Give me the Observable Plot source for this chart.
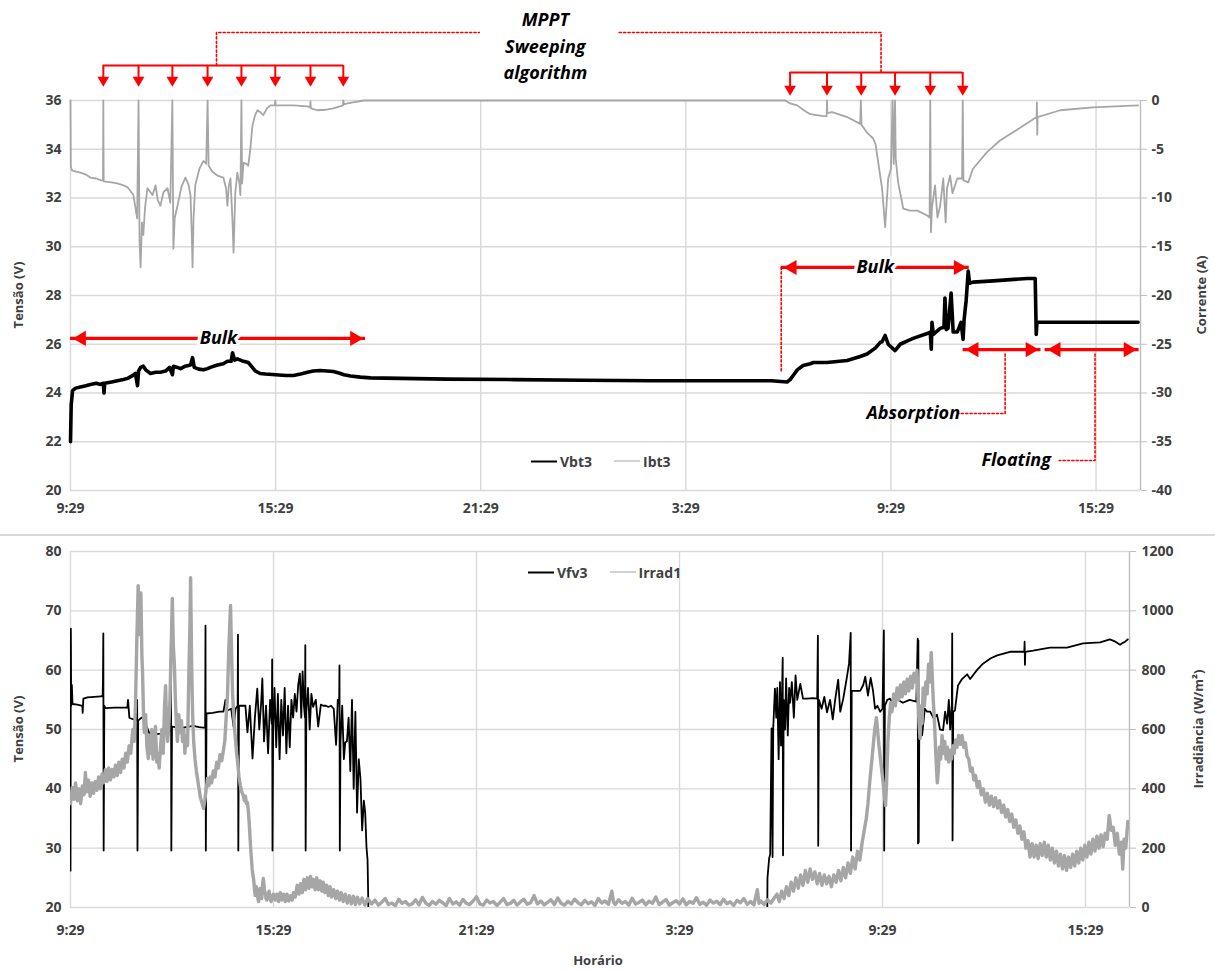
<!DOCTYPE html>
<html>
<head>
<meta charset="utf-8">
<script src="https://cdn.jsdelivr.net/npm/d3@7"></script>
<script src="https://cdn.jsdelivr.net/npm/@observablehq/plot@0.6"></script>
<style>
  body { margin: 0; background: #fff; }
  #wrap { position: relative; width: 1215px; height: 971px; overflow: hidden; font-family: "Open Sans", "Liberation Sans", sans-serif; background: #fff; }
  #top, #bot { position: absolute; left: 0; }
  #top { top: 0; }
  #bot { top: 530px; }
  .sep { position: absolute; left: 0; top: 534px; width: 1215px; border-top: 2px solid #d9d9d9; }
  .lab { position: absolute; font-weight: 700; font-size: 14px; color: #404040; white-space: nowrap; }
  .rot { transform: translate(-50%, -50%) rotate(-90deg); }
  .ctr { transform: translate(-50%, -50%); }
  .leg { position: absolute; display: flex; align-items: center; font-weight: 700; font-size: 14px; color: #404040; transform: translateY(-50%); white-space: nowrap; }
  .leg span.sw { display: inline-block; width: 26px; margin-right: 3px; }
  .leg span.gap { display: inline-block; width: 22px; }
</style>
</head>
<body>
<div id="wrap">
  <div id="top"></div>
  <div class="sep"></div>
  <div id="bot"></div>
  <div class="lab rot" style="left:18px;top:295px;font-size:13px;">Tensão (V)</div>
  <div class="lab rot" style="left:1201px;top:295px;font-size:13px;">Corrente (A)</div>
  <div class="lab rot" style="left:18px;top:729px;font-size:13px;">Tensão (V)</div>
  <div class="lab rot" style="left:1198px;top:729px;font-size:13px;">Irradiância (W/m²)</div>
  <div class="lab ctr" style="left:598px;top:960px;font-size:13px;">Horário</div>
  <div class="leg" style="left:531px;top:461px;">
    <span class="sw" style="border-top:2px solid #000;"></span>Vbt3<span class="gap"></span>
    <span class="sw" style="border-top:1px solid #a6a6a6;"></span>Ibt3
  </div>
  <div class="leg" style="left:528px;top:572px;">
    <span class="sw" style="border-top:2px solid #000;"></span>Vfv3<span class="gap"></span>
    <span class="sw" style="border-top:1px solid #a6a6a6;"></span>Irrad1
  </div>
</div>
<script>
// ---------------- DATA (hours after 9:29, value) ----------------
const timeTicks = [0, 6, 12, 18, 24, 30];
const timeTickLabels = ["9:29", "15:29", "21:29", "3:29", "9:29", "15:29"];
const timeEnd = 31.3;

const voltTicksTop = [20, 22, 24, 26, 28, 30, 32, 34, 36];
const currentTicks = [0, -5, -10, -15, -20, -25, -30, -35, -40];
const voltTicksBottom = [20, 30, 40, 50, 60, 70, 80];
const irradTicks = [0, 200, 400, 600, 800, 1000, 1200];

// Battery voltage Vbt3 (V)
const vbt3 = [
  [0.00,22.0],[0.02,23.5],[0.06,24.1],[0.15,24.2],[0.29,24.25],[0.45,24.3],[0.58,24.35],[0.75,24.4],
  [0.88,24.35],[0.96,24.4],[0.98,24.0],[1.00,24.4],[1.20,24.45],[1.37,24.5],[1.55,24.55],[1.67,24.6],
  [1.80,24.7],[1.90,24.8],[1.96,24.3],[1.99,24.9],[2.05,25.05],[2.13,25.1],[2.20,24.95],[2.34,24.8],
  [2.49,24.85],[2.63,24.85],[2.78,24.9],[2.90,25.05],[2.98,24.75],[3.01,25.1],[3.13,25.05],[3.22,25.0],
  [3.36,25.1],[3.51,25.15],[3.57,25.45],[3.62,25.05],[3.75,24.98],[3.89,24.95],[4.01,25.0],[4.09,25.05],
  [4.30,25.15],[4.47,25.2],[4.59,25.3],[4.70,25.3],[4.74,25.65],[4.80,25.35],[4.88,25.4],[4.97,25.35],
  [5.06,25.3],[5.20,25.25],[5.32,25.05],[5.41,24.9],[5.55,24.8],[5.70,24.78],[6.00,24.75],[6.30,24.72],
  [6.52,24.72],[6.73,24.78],[6.93,24.85],[7.10,24.9],[7.31,24.92],[7.50,24.9],[7.69,24.88],[7.85,24.82],
  [8.00,24.75],[8.19,24.7],[8.48,24.65],[8.77,24.62],[9.65,24.6],[11.0,24.57],[13.0,24.55],[15.0,24.52],
  [17.0,24.5],[19.0,24.5],[20.5,24.5],[20.96,24.45],[21.05,24.55],[21.14,24.72],[21.26,24.95],[21.43,25.13],
  [21.64,25.2],[21.73,25.25],[22.13,25.25],[22.72,25.33],[23.10,25.5],[23.30,25.6],[23.55,25.85],[23.68,26.07],
  [23.74,26.1],[23.83,26.36],[23.92,26.0],[24.12,25.74],[24.27,26.0],[24.50,26.15],[24.65,26.24],[25.06,26.44],
  [25.15,26.5],[25.18,25.8],[25.20,26.9],[25.24,26.4],[25.44,26.65],[25.55,26.7],[25.58,27.9],[25.62,26.6],
  [25.67,26.65],[25.76,28.1],[25.82,26.5],[25.94,26.5],[26.05,26.9],[26.11,26.2],[26.14,27.0],[26.20,27.8],
  [26.26,29.0],[26.30,28.5],[26.40,28.55],[26.99,28.6],[27.50,28.65],[27.98,28.7],[28.22,28.7],[28.25,26.4],
  [28.27,26.9],[28.40,26.9],[29.0,26.9],[30.0,26.9],[31.23,26.9]
];

// Battery current Ibt3 (A)
const ibt3 = [
  [0.00,0],[0.01,-6.8],[0.05,-7.2],[0.29,-7.4],[0.45,-7.6],[0.58,-7.9],[0.75,-8.0],[0.90,-8.2],[0.95,-8.2],
  [0.96,0],[0.97,-8.3],[1.20,-8.4],[1.37,-8.5],[1.55,-8.7],[1.67,-8.9],[1.84,-9.7],[1.95,-12.1],[1.99,0],
  [2.02,-14.5],[2.05,-17.1],[2.09,-12.5],[2.13,-13.8],[2.18,-11.0],[2.25,-9.0],[2.40,-9.7],[2.49,-8.7],
  [2.55,-10.2],[2.63,-10.8],[2.72,-9.4],[2.84,-9.0],[2.92,-10.5],[2.98,0],[3.01,-15.2],[3.05,-12.0],
  [3.13,-10.8],[3.25,-8.8],[3.36,-7.9],[3.45,-8.6],[3.51,-9.7],[3.55,-14],[3.57,-17.1],[3.60,-12],
  [3.65,-8.7],[3.77,-7.0],[3.89,-6.2],[3.97,-6.5],[4.01,0],[4.04,-6.7],[4.15,-7.3],[4.30,-7.7],[4.47,-7.9],
  [4.55,-9.0],[4.59,-10.8],[4.63,-8.8],[4.68,-8.0],[4.74,-12.5],[4.77,-15.6],[4.82,-9.5],[4.88,-7.4],
  [4.94,-8.5],[4.97,-9.7],[5.00,0],[5.02,-8.5],[5.06,-6.4],[5.15,-6.5],[5.20,-6.7],[5.26,-5.0],[5.32,-2.6],
  [5.40,-1.5],[5.47,-1.0],[5.55,-1.2],[5.64,-1.5],[5.75,-0.8],[5.85,-0.5],[5.98,-0.5],[5.99,0],[6.00,-0.5],
  [6.52,-0.5],[6.93,-0.6],[7.01,-0.7],[7.02,-0.1],[7.03,-0.8],[7.22,-1.0],[7.45,-0.95],[7.69,-0.8],
  [7.97,-0.5],[7.98,0],[8.00,-0.4],[8.10,-0.3],[8.57,0],[20.91,0],[21.05,-0.3],[21.26,-0.5],[21.45,-1.0],
  [21.64,-1.4],[22.02,-1.6],[22.12,-1.6],[22.13,0],[22.14,-1.3],[22.28,-1.2],[22.72,-1.7],[23.10,-2.4],
  [23.12,0],[23.14,-2.5],[23.30,-3.3],[23.48,-3.9],[23.55,-4.5],[23.63,-6.4],[23.74,-9.0],[23.83,-13.0],
  [23.92,-8.0],[24.00,-7.0],[24.05,0],[24.08,-6.5],[24.12,0],[24.14,-6.0],[24.21,-8.4],[24.36,-11.1],
  [24.56,-11.3],[24.77,-11.3],[25.06,-11.8],[25.13,-12.0],[25.15,0],[25.17,-13.5],[25.20,-11],[25.29,-8.7],
  [25.36,-12.0],[25.44,-10.8],[25.53,-8.0],[25.60,-12.5],[25.64,-9.0],[25.73,-7.7],[25.80,-9.5],[25.94,-8.0],
  [26.08,-8.0],[26.10,0],[26.12,-8.2],[26.26,-8.4],[26.40,-7.0],[26.81,-5.3],[27.19,-4.1],[27.78,-2.8],
  [28.26,-1.7],[28.27,-0.2],[28.28,-3.5],[28.29,-1.7],[28.95,-1.0],[29.91,-0.7],[31.23,-0.5]
];

// PV voltage Vfv3 (V)
const vfv3 = [
  [0.00,26.2],[0.01,67.0],[0.02,54.0],[0.04,57.5],[0.06,54.3],[0.20,54.2],[0.35,54.0],[0.36,52.8],[0.38,55.2],
  [0.50,55.4],[0.70,55.5],[0.90,55.6],[0.95,55.6],[0.96,58.5],[0.97,66.2],[0.98,29.6],[1.00,54.0],[1.03,53.6],
  [1.30,53.7],[1.50,53.7],[1.68,53.7],[1.70,55.0],[1.74,52.0],[1.77,51.9],[1.96,51.5],[1.97,55],[1.98,29.6],
  [2.00,51.5],[2.10,52.0],[2.16,51.8],[2.25,50.5],[2.36,49.0],[2.50,49.2],[2.66,49.3],[2.81,49.6],[2.95,49.8],
  [2.97,66.5],[2.98,29.6],[3.00,50.5],[3.20,50.3],[3.34,50.3],[3.50,50.5],[3.63,50.6],[3.80,50.4],[3.93,50.3],
  [3.98,50.3],[3.99,67.5],[4.00,29.6],[4.02,52.7],[4.20,52.8],[4.40,53.0],[4.52,53.0],[4.58,55.0],[4.64,53.2],
  [4.75,53.5],[4.82,50.5],[4.88,53.5],[4.94,54.0],[4.95,66.0],[4.96,29.6],[4.98,54.0],[5.10,54.0],[5.17,54.0],
  [5.23,49.5],[5.30,54],[5.38,45.1],[5.45,52],[5.52,56.9],[5.58,50],[5.64,55],[5.67,58.6],[5.72,48],[5.78,54],
  [5.84,46],[5.90,55],[5.95,51],[5.96,61.8],[5.97,29.6],[5.99,50],[6.03,57],[6.08,47],[6.13,56],[6.18,45],
  [6.23,55],[6.28,49],[6.33,57],[6.38,46],[6.43,54],[6.48,47],[6.53,55],[6.58,52],[6.63,56],[6.68,53],
  [6.73,57.5],[6.78,59.4],[6.82,52],[6.86,59.8],[6.90,54],[6.93,52],[6.94,64.2],[6.95,29.6],[6.97,53],
  [7.02,57],[7.07,50],[7.12,56],[7.17,53.8],[7.25,55],[7.32,50.5],[7.40,54.2],[7.47,54],[7.55,54],[7.62,53.8],
  [7.70,54],[7.78,53.5],[7.85,47.4],[7.90,55],[7.94,54.5],[7.95,60.8],[7.96,29.6],[7.98,48],[8.03,54],
  [8.08,45],[8.12,47.8],[8.17,48],[8.22,52],[8.27,43],[8.32,55],[8.37,40],[8.42,53],[8.47,36],[8.52,45],
  [8.57,41.7],[8.62,33],[8.67,38],[8.71,36],[8.75,30],[8.78,28],[8.80,21.5],[8.83,0],[20.57,0],[20.60,25],
  [20.65,28.3],[20.68,29],[20.72,50.2],[20.75,28.5],[20.77,50.2],[20.82,56.9],[20.86,52],[20.89,57],[20.93,45],
  [20.97,58],[21.00,47.3],[21.03,56],[21.05,62.1],[21.06,28.8],[21.08,55],[21.12,50],[21.15,58.6],[21.20,49],
  [21.24,57],[21.27,54.5],[21.32,58],[21.38,52],[21.43,59.1],[21.48,55],[21.57,57.7],[21.65,55.2],[21.77,55.2],
  [21.95,55.3],[22.07,55.2],[22.09,65.8],[22.10,30.4],[22.12,55.0],[22.20,53.5],[22.28,55.5],[22.36,52.9],
  [22.45,55],[22.53,51.7],[22.60,55],[22.69,58.4],[22.75,53],[22.84,55.2],[22.95,58.9],[23.01,61.1],
  [23.06,66.3],[23.07,29.6],[23.09,56.5],[23.20,56.5],[23.34,56.5],[23.43,57.5],[23.49,58.9],[23.57,55.7],
  [23.65,58.7],[23.72,56.5],[23.78,53.5],[23.85,54],[23.93,53],[24.00,53.5],[24.04,66.7],[24.05,29.6],
  [24.07,54],[24.14,55],[24.22,55.2],[24.30,54.5],[24.45,55],[24.60,54.5],[24.80,55],[25.00,54.7],[25.04,65.3],
  [25.05,30.8],[25.06,65.0],[25.07,31],[25.09,53],[25.17,49],[25.25,53.5],[25.32,53],[25.41,53],[25.50,52],
  [25.61,52.5],[25.70,50],[25.79,49.9],[25.85,53],[25.91,51],[25.96,55],[26.00,50],[26.05,54.5],[26.06,66.2],
  [26.07,31.3],[26.09,53],[26.14,53.2],[26.20,56],[26.23,57.4],[26.35,58.5],[26.50,59.3],[26.59,58.5],
  [26.79,60.0],[26.97,61.1],[27.20,62.0],[27.39,62.5],[27.77,63.1],[27.98,63.1],[28.19,63.1],[28.20,64.8],
  [28.21,60.9],[28.22,63.1],[28.45,63.3],[28.74,63.6],[28.95,63.8],[29.45,63.8],[29.93,64.5],[30.43,64.7],
  [30.72,65.2],[30.85,64.9],[31.02,64.3],[31.10,64.6],[31.17,64.8],[31.25,65.2]
];

// Irradiance Irrad1 (W/m²), read as a jagged trace
const irrad1 = [
  [0.00,350],[0.05,405],[0.10,365],[0.15,420],[0.20,360],[0.25,400],[0.30,350],[0.35,410],[0.40,380],[0.44,455],
  [0.48,390],[0.53,430],[0.58,375],[0.63,420],[0.68,385],[0.73,425],[0.78,395],[0.83,440],[0.88,400],[0.93,450],
  [0.98,420],[1.03,465],[1.08,425],[1.13,470],[1.18,430],[1.23,465],[1.28,440],[1.33,480],[1.38,445],[1.43,490],
  [1.48,455],[1.53,500],[1.58,470],[1.63,520],[1.68,490],[1.73,545],[1.78,520],[1.84,600],[1.88,560],[1.92,680],
  [1.96,900],[2.00,1085],[2.03,920],[2.06,1040],[2.08,1060],[2.11,850],[2.13,792],[2.16,640],[2.18,590],[2.22,650],
  [2.26,540],[2.30,502],[2.33,580],[2.36,520],[2.40,600],[2.44,500],[2.48,560],[2.51,610],[2.55,490],[2.58,520],
  [2.62,470],[2.66,540],[2.70,600],[2.74,520],[2.78,680],[2.81,748],[2.84,620],[2.87,560],[2.90,600],[2.94,700],
  [2.98,900],[3.01,1042],[3.04,880],[3.07,820],[3.10,700],[3.13,620],[3.16,560],[3.20,650],[3.24,590],[3.28,630],
  [3.31,560],[3.35,600],[3.38,520],[3.42,580],[3.46,546],[3.50,800],[3.53,950],[3.55,1112],[3.58,820],[3.61,650],
  [3.64,560],[3.68,500],[3.72,460],[3.76,430],[3.80,400],[3.84,370],[3.88,355],[3.93,334],[3.97,360],[4.01,400],
  [4.05,435],[4.09,410],[4.13,440],[4.17,420],[4.22,460],[4.27,440],[4.32,490],[4.37,470],[4.42,515],[4.47,495],
  [4.52,530],[4.56,560],[4.60,640],[4.64,715],[4.68,880],[4.71,960],[4.73,1018],[4.76,860],[4.79,720],[4.82,657],
  [4.85,600],[4.88,560],[4.91,520],[4.94,489],[4.98,440],[5.02,411],[5.06,390],[5.10,380],[5.14,360],[5.17,375],
  [5.20,350],[5.23,354],[5.26,320],[5.29,270],[5.32,209],[5.35,160],[5.37,130],[5.39,110],[5.41,98],[5.44,60],
  [5.46,40],[5.49,70],[5.52,60],[5.54,30],[5.56,20],[5.59,50],[5.61,64],[5.63,40],[5.65,30],[5.68,80],[5.70,98],
  [5.73,60],[5.75,50],[5.78,30],[5.80,25],[5.84,45],[5.87,55],[5.90,30],[5.93,20],[5.97,40],[6.00,45],[6.05,25],
  [6.10,45],[6.15,20],[6.20,50],[6.25,25],[6.30,45],[6.35,20],[6.40,45],[6.45,22],[6.50,40],[6.55,25],[6.59,50],
  [6.64,35],[6.70,75],[6.75,45],[6.80,80],[6.85,50],[6.90,95],[6.95,60],[7.00,100],[7.05,65],[7.09,105],[7.14,70],
  [7.18,95],[7.23,60],[7.28,100],[7.33,60],[7.38,90],[7.43,55],[7.47,85],[7.52,50],[7.57,75],[7.62,40],[7.67,70],
  [7.72,35],[7.78,60],[7.84,30],[7.89,55],[7.95,25],[8.00,50],[8.06,20],[8.12,45],[8.18,15],[8.24,40],[8.30,12],
  [8.36,38],[8.42,10],[8.48,35],[8.55,12],[8.62,32],[8.70,8],[8.78,30],
  [8.9,12],[9.0,25],[9.1,8],[9.2,18],[9.3,30],[9.4,10],[9.5,15],[9.6,6],[9.7,28],[9.8,14],[9.9,20],[10.0,8],
  [10.1,12],[10.2,26],[10.3,9],[10.4,34],[10.5,15],[10.6,7],[10.7,20],[10.8,11],[10.9,24],[11.0,16],[11.1,6],
  [11.2,30],[11.3,12],[11.4,19],[11.5,8],[11.6,27],[11.7,14],[11.8,10],[11.9,22],[12.0,36],[12.1,12],[12.2,8],
  [12.3,25],[12.4,15],[12.5,20],[12.6,7],[12.7,18],[12.8,30],[12.9,10],[13.0,14],[13.1,24],[13.2,8],[13.3,19],
  [13.4,28],[13.5,11],[13.6,16],[13.7,40],[13.8,12],[13.9,22],[14.0,9],[14.1,17],[14.2,26],[14.3,10],[14.4,32],
  [14.5,14],[14.6,8],[14.7,21],[14.8,12],[14.9,28],[15.0,16],[15.1,9],[15.2,24],[15.3,13],[15.4,19],[15.5,7],
  [15.6,30],[15.7,15],[15.8,22],[15.9,11],[16.0,55],[16.05,18],[16.1,10],[16.2,26],[16.3,14],[16.4,20],[16.5,8],
  [16.6,31],[16.7,12],[16.8,17],[16.9,25],[17.0,9],[17.1,21],[17.2,14],[17.3,35],[17.4,10],[17.5,18],[17.6,27],
  [17.7,8],[17.8,16],[17.9,23],[18.0,12],[18.1,29],[18.2,9],[18.3,20],[18.4,14],[18.5,33],[18.6,11],[18.7,18],
  [18.8,8],[18.9,25],[19.0,15],[19.1,21],[19.2,10],[19.3,28],[19.4,13],[19.5,19],[19.6,7],[19.7,24],[19.8,16],
  [19.9,30],[20.0,11],[20.1,20],[20.2,9],[20.3,60],[20.35,14],[20.4,22],[20.5,10],[20.6,26],[20.7,15],[20.8,32],
  [20.88,45],[20.95,20],[21.02,55],[21.09,30],
  [21.16,70],[21.23,40],[21.30,85],[21.37,55],[21.44,100],[21.51,65],[21.58,110],[21.65,75],[21.72,125],[21.79,85],
  [21.86,130],[21.93,95],[22.00,120],[22.07,80],[22.14,115],[22.21,75],[22.28,110],[22.35,80],[22.42,105],[22.49,70],
  [22.56,110],[22.63,85],[22.70,125],[22.77,90],[22.84,135],[22.91,100],[22.98,150],[23.05,115],[23.12,170],
  [23.19,130],[23.26,190],[23.33,160],[23.40,220],[23.46,260],[23.52,300],[23.57,350],[23.62,420],[23.67,480],
  [23.72,540],[23.77,600],[23.82,640],[23.86,590],[23.90,540],[23.94,500],[23.98,460],[24.02,420],[24.06,370],
  [24.09,344],[24.12,420],[24.16,560],[24.20,640],[24.24,690],[24.28,660],[24.33,720],[24.38,680],[24.43,740],
  [24.48,700],[24.53,750],[24.58,710],[24.63,760],[24.68,720],[24.73,770],[24.78,730],[24.83,780],[24.88,740],
  [24.93,790],[24.98,760],[25.02,800],[25.05,700],[25.08,620],[25.11,570],[25.14,680],[25.17,620],[25.20,740],
  [25.24,680],[25.28,760],[25.32,720],[25.36,820],[25.40,760],[25.44,860],[25.47,780],[25.50,700],[25.53,640],
  [25.56,560],[25.59,480],[25.62,420],[25.65,460],[25.68,540],[25.72,500],[25.76,580],[25.80,520],[25.84,560],
  [25.88,500],[25.92,540],[25.96,490],[26.00,530],[26.04,500],[26.08,545],[26.12,520],[26.16,565],[26.20,540],
  [26.25,580],[26.30,550],[26.35,580],[26.40,540],[26.45,555],[26.50,510],[26.55,500],[26.60,460],[26.65,470],
  [26.70,430],[26.75,445],[26.80,405],[26.86,425],[26.92,380],[26.98,400],[27.04,355],[27.10,385],[27.16,345],
  [27.22,375],[27.28,340],[27.34,370],[27.40,335],[27.46,360],[27.52,320],[27.58,345],[27.64,305],[27.70,330],
  [27.76,290],[27.82,315],[27.88,270],[27.94,295],[28.00,250],[28.06,275],[28.12,230],[28.18,255],[28.24,200],
  [28.30,225],[28.36,170],[28.42,215],[28.48,170],[28.54,210],[28.60,165],[28.66,215],[28.72,175],[28.78,220],
  [28.84,170],[28.90,210],[28.96,160],[29.02,200],[29.08,150],[29.14,190],[29.20,140],[29.26,180],[29.32,130],
  [29.38,175],[29.44,125],[29.50,170],[29.56,135],[29.62,180],[29.68,140],[29.74,190],[29.80,150],[29.86,200],
  [29.92,160],[29.98,210],[30.04,170],[30.10,220],[30.16,180],[30.22,230],[30.28,190],[30.34,240],[30.40,200],
  [30.46,245],[30.52,205],[30.58,250],[30.64,230],[30.70,310],[30.76,260],[30.82,270],[30.88,210],[30.94,250],
  [31.00,180],[31.06,220],[31.10,130],[31.14,230],[31.19,200],[31.25,290]
];

// ---------------- helpers ----------------
const fmtTime = d => timeTickLabels[timeTicks.indexOf(d)];
const ampToV = a => 36 + a * 0.4;            // current axis mapped on the voltage scale
const irrToV = w => 20 + w / 20;             // irradiance axis mapped on the voltage scale
const nearestLabel = (labels, mapped) => v => {
  let best = 0;
  mapped.forEach((m, i) => { if (Math.abs(m - v) < Math.abs(mapped[best] - v)) best = i; });
  return String(labels[best]);
};
const ampMapped = currentTicks.map(ampToV);
const irrMapped = irradTicks.map(irrToV);

const FONT = '"Open Sans", "Liberation Sans", sans-serif';
const GRID = "#d9d9d9";
const RED = "#ff0000";
const GRAY = "#a6a6a6";

// ---------------- annotations (top chart) ----------------
const mpptLeft = [0.96, 1.99, 2.98, 4.01, 5.00, 5.99, 7.02, 7.98];
const mpptRight = [21.05, 22.13, 23.13, 24.12, 25.15, 26.10];
const annText = {fontFamily: FONT, fontWeight: "bold", fontStyle: "italic", fontSize: 17, fill: "#000"};

function downArrows(xs, yBracket, yTip) {
  return [
    Plot.ruleY([yBracket], {x1: xs[0], x2: xs[xs.length - 1], stroke: RED, strokeWidth: 2}),
    Plot.ruleX(xs, {x: d => d, y1: yBracket, y2: yTip + 0.3, stroke: RED, strokeWidth: 2}),
    Plot.dot(xs, {x: d => d, y: () => yTip, symbol: "triangle2", r: 5.6, rotate: 180, dy: -8.5, fill: RED, stroke: "none"})
  ];
}
function doubleArrow(x1, x2, y) {
  return [
    Plot.ruleY([y], {x1, x2, stroke: RED, strokeWidth: 3.2}),
    Plot.dot([x1], {x: d => d, y: () => y, symbol: "triangle2", r: 7.2, rotate: -90, dx: 11, fill: RED, stroke: "none"}),
    Plot.dot([x2], {x: d => d, y: () => y, symbol: "triangle2", r: 7.2, rotate: 90, dx: -11, fill: RED, stroke: "none"})
  ];
}
function dotted(points) {
  return Plot.line(points, {x: d => d[0], y: d => d[1], stroke: RED, strokeWidth: 1.6, strokeDasharray: "2.2,2.2"});
}

const topPlot = Plot.plot({
  width: 1215, height: 530,
  marginLeft: 70, marginRight: 75, marginTop: 100, marginBottom: 40,
  style: {fontFamily: FONT, fontSize: "14px", fontWeight: "bold", color: "#404040", background: "transparent", overflow: "visible"},
  x: {domain: [0, timeEnd]},
  y: {domain: [20, 36]},
  marks: [
    Plot.gridY(voltTicksTop, {stroke: GRID, strokeOpacity: 1, strokeWidth: 1.4}),
    Plot.gridX(timeTicks, {stroke: GRID, strokeOpacity: 1, strokeWidth: 1.4}),
    Plot.ruleX([timeEnd], {stroke: "#bfbfbf", strokeWidth: 1.4}),
    Plot.axisX(timeTicks, {tickSize: 0, tickPadding: 13, tickFormat: fmtTime, label: null}),
    Plot.axisY(voltTicksTop, {anchor: "left", tickSize: 0, tickPadding: 9, label: null}),
    Plot.axisY(ampMapped, {anchor: "right", tickSize: 6, tickPadding: 5, stroke: "#bfbfbf", tickFormat: nearestLabel(currentTicks, ampMapped), label: null}),
    Plot.line(ibt3, {x: d => d[0], y: d => ampToV(d[1]), stroke: GRAY, strokeWidth: 1.8}),
    Plot.line(vbt3, {x: d => d[0], y: d => d[1], stroke: "#000", strokeWidth: 3.6}),
    // MPPT annotation
    dotted([[4.27, 37.44], [4.27, 38.79], [11.96, 38.79]]),
    dotted([[16.05, 38.79], [23.71, 38.79], [23.71, 37.15]]),
    ...downArrows(mpptLeft, 37.44, 36.49),
    ...downArrows(mpptRight, 37.15, 36.12),
    Plot.text(["MPPT", "Sweeping", "algorithm"], {x: () => 13.89, y: (d, i) => [39.28, 38.18, 37.1][i], ...annText, fontSize: 18}),
    // Bulk (left)
    ...doubleArrow(0, 8.63, 26.24),
    Plot.text(["Bulk"], {x: () => 4.33, y: () => 26.24, ...annText, fontSize: 18, stroke: "#fff", strokeWidth: 7, paintOrder: "stroke"}),
    // Bulk (right)
    dotted([[20.79, 29.15], [20.79, 24.84]]),
    ...doubleArrow(20.79, 26.29, 29.15),
    Plot.text(["Bulk"], {x: () => 23.54, y: () => 29.15, ...annText, fontSize: 18, stroke: "#fff", strokeWidth: 7, paintOrder: "stroke"}),
    // Absorption
    ...doubleArrow(26.11, 28.39, 25.78),
    dotted([[27.34, 25.6], [27.34, 23.16], [25.98, 23.16]]),
    Plot.text(["Absorption"], {x: () => 26.02, y: () => 23.16, textAnchor: "end", ...annText, fontSize: 18}),
    // Floating
    ...doubleArrow(28.51, 31.26, 25.78),
    dotted([[29.97, 25.6], [29.97, 21.23], [28.92, 21.23]]),
    Plot.text(["Floating"], {x: () => 28.68, y: () => 21.23, textAnchor: "end", ...annText, fontSize: 18})
  ]
});
document.getElementById("top").appendChild(topPlot);

const botPlot = Plot.plot({
  width: 1215, height: 441,
  marginLeft: 70, marginRight: 86, marginTop: 21, marginBottom: 64,
  style: {fontFamily: FONT, fontSize: "14px", fontWeight: "bold", color: "#404040", background: "transparent", overflow: "visible"},
  x: {domain: [0, timeEnd]},
  y: {domain: [20, 80]},
  marks: [
    Plot.gridY(voltTicksBottom, {stroke: GRID, strokeOpacity: 1, strokeWidth: 1.4}),
    Plot.gridX(timeTicks, {stroke: GRID, strokeOpacity: 1, strokeWidth: 1.4}),
    Plot.ruleX([timeEnd], {stroke: "#bfbfbf", strokeWidth: 1.4}),
    Plot.axisX(timeTicks, {tickSize: 0, tickPadding: 18, tickFormat: fmtTime, label: null}),
    Plot.axisY(voltTicksBottom, {anchor: "left", tickSize: 0, tickPadding: 9, label: null}),
    Plot.axisY(irrMapped, {anchor: "right", tickSize: 6, tickPadding: 6, stroke: "#bfbfbf", tickFormat: nearestLabel(irradTicks, irrMapped), label: null}),
    Plot.line(vfv3, {x: d => d[0], y: d => d[1], stroke: "#000", strokeWidth: 1.8, clip: true}),
    Plot.line(irrad1, {x: d => d[0], y: d => irrToV(d[1]), stroke: GRAY, strokeWidth: 3.4, clip: true})
  ]
});
document.getElementById("bot").appendChild(botPlot);
</script>
</body>
</html>
